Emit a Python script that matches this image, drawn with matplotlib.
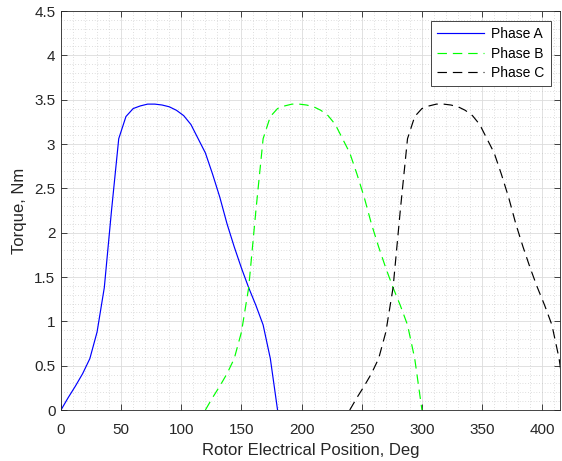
import numpy as np
import matplotlib.pyplot as plt
from matplotlib.ticker import MultipleLocator

plt.rcParams['font.family'] = ['Liberation Sans', 'DejaVu Sans']

# torque profile of one phase over its conduction interval (deg, Nm)
position = [0, 6, 12, 18, 24, 30, 36, 42, 48, 54, 60, 66, 72, 78, 84, 90,
            96, 102, 108, 114, 120, 126, 132, 138, 144, 150, 156, 162, 168,
            174, 180]
torque = [0, 0.14, 0.27, 0.41, 0.58, 0.88, 1.38, 2.25, 3.06, 3.31, 3.40,
          3.43, 3.45, 3.45, 3.44, 3.42, 3.38, 3.32, 3.22, 3.06, 2.90, 2.66,
          2.40, 2.10, 1.84, 1.60, 1.38, 1.18, 0.96, 0.58, 0]

# electrical offset of each phase
phase_names = ['Phase A', 'Phase B', 'Phase C']
phase_offsets = [0, 120, 240]
phase_colors = ['#0000ff', '#00ff00', '#000000']
phase_styles = ['-', (0, (8, 5)), (0, (8, 5))]

fig = plt.figure(figsize=(5.62, 4.61), dpi=100)
ax = fig.add_axes([0.1085, 0.1106, 0.8885, 0.8655])

pos = np.array(position)
for name, off, col, ls in zip(phase_names, phase_offsets, phase_colors, phase_styles):
    ax.plot(pos + off, torque, color=col, linestyle=ls, linewidth=0.85, label=name)

ax.set_xlim(0, 415)
ax.set_ylim(0, 4.5)
ax.xaxis.set_major_locator(MultipleLocator(50))
ax.xaxis.set_minor_locator(MultipleLocator(10))
ax.yaxis.set_minor_locator(MultipleLocator(0.1))
ax.set_yticks(np.arange(0, 4.51, 0.5))
ax.set_yticklabels(['0', '0.5', '1', '1.5', '2', '2.5', '3', '3.5', '4', '4.5'])

ax.grid(which='major', color='#dcdcdc', linewidth=0.6)
ax.grid(which='minor', color='#c0c0c0', linestyle=(0, (1, 3)), linewidth=0.5)
ax.set_axisbelow(True)

ax.tick_params(which='major', direction='in', length=4, top=True, right=True,
               labelsize=11, colors='#262626', width=0.6, pad=4)
ax.tick_params(axis='x', which='major', pad=9)
ax.tick_params(which='minor', length=0)
for s in ax.spines.values():
    s.set_color('#262626')
    s.set_linewidth(0.6)

ax.set_xlabel('Rotor Electrical Position, Deg', fontsize=12, color='#262626', labelpad=5)
ax.set_ylabel('Torque, Nm', fontsize=12, color='#262626', labelpad=5)

leg = ax.legend(loc='upper right', fontsize=10, handlelength=3.4, fancybox=False,
                framealpha=1, edgecolor='#262626', borderaxespad=0.7,
                borderpad=0.45, labelspacing=0.4, handletextpad=0.5)
leg.get_frame().set_linewidth(0.6)

fig.savefig('out.png', dpi=100)
